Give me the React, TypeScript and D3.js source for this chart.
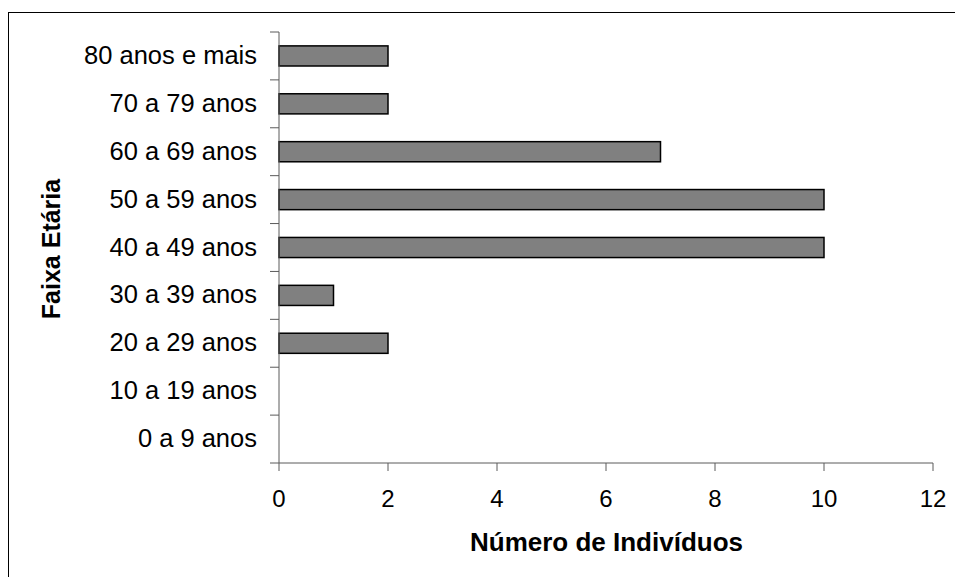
import React from "react";
import * as d3 from "d3";

const categories = [
  "80 anos e mais",
  "70 a 79 anos",
  "60 a 69 anos",
  "50 a 59 anos",
  "40 a 49 anos",
  "30 a 39 anos",
  "20 a 29 anos",
  "10 a 19 anos",
  "0 a 9 anos",
];
const values = [2, 2, 7, 10, 10, 1, 2, 0, 0];
const xTicks = [0, 2, 4, 6, 8, 10, 12];
const xTitle = "Número de Indivíduos";
const yTitle = "Faixa Etária";

export default function App() {
  const W = 955;
  const H = 577;
  const left = 279;
  const right = 933;
  const top = 32;
  const bottom = 463;
  const x = d3.scaleLinear().domain([0, 12]).range([left, right]);
  const y = d3
    .scaleBand<string>()
    .domain(categories)
    .range([top, bottom])
    .paddingInner(0.58)
    .paddingOuter(0.29);
  const step = y.step();
  const font = "'Liberation Sans', Arial, sans-serif";
  const axisColor = "#5a5a5a";

  return (
    <svg
      width={W}
      height={H}
      style={{ position: "absolute", left: 0, top: 0, display: "block" }}
      fontFamily={font}
    >
      <rect x={0} y={0} width={W} height={H} fill="#fff" />
      <rect x={8.5} y={12.5} width={W + 20} height={H + 20} fill="none" stroke="#000" strokeWidth={1} />
      {/* bars */}
      {categories.map((c, i) =>
        values[i] > 0 ? (
          <rect
            key={c}
            x={x(0)}
            y={y(c)!}
            width={x(values[i]) - x(0)}
            height={y.bandwidth()}
            fill="#808080"
            stroke="#000"
            strokeWidth={1.5}
          />
        ) : null
      )}
      {/* y axis */}
      <line x1={left} x2={left} y1={top} y2={bottom} stroke={axisColor} strokeWidth={1} />
      {d3.range(categories.length + 1).map((i) => (
        <line
          key={"yt" + i}
          x1={left - 9}
          x2={left}
          y1={top + i * step}
          y2={top + i * step}
          stroke={axisColor}
          strokeWidth={1}
        />
      ))}
      {categories.map((c) => (
        <text
          key={"yl" + c}
          x={257}
          y={y(c)! + y.bandwidth() / 2 + 8}
          textAnchor="end"
          fontSize={25.5}
          fill="#000"
        >
          {c}
        </text>
      ))}
      {/* x axis */}
      <line x1={left} x2={right} y1={bottom} y2={bottom} stroke={axisColor} strokeWidth={1} />
      {xTicks.map((t) => (
        <g key={"xt" + t}>
          <line x1={x(t)} x2={x(t)} y1={bottom} y2={bottom + 8} stroke={axisColor} strokeWidth={1} />
          <text x={x(t)} y={507} textAnchor="middle" fontSize={24} fill="#000">
            {t}
          </text>
        </g>
      ))}
      <text x={606.5} y={551} textAnchor="middle" fontSize={26} fontWeight="bold" fill="#000">
        {xTitle}
      </text>
      <text
        transform={`translate(60, 249) rotate(-90)`}
        textAnchor="middle"
        fontSize={25}
        fontWeight="bold"
        fill="#000"
      >
        {yTitle}
      </text>
    </svg>
  );
}
